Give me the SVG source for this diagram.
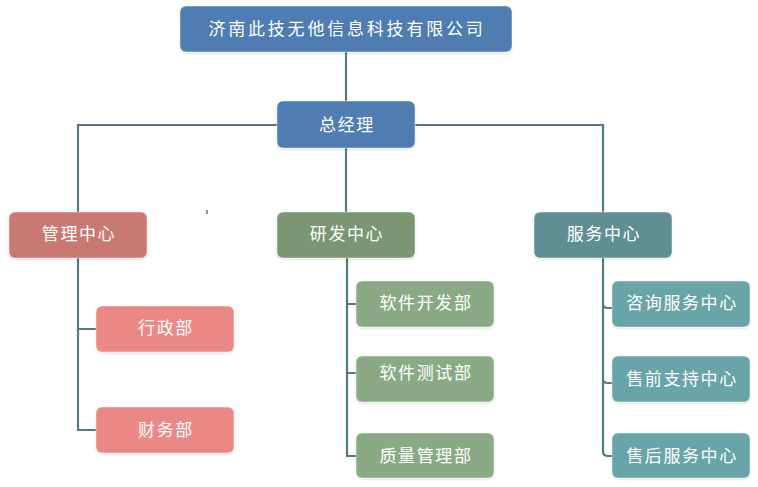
<svg xmlns="http://www.w3.org/2000/svg" width="758" height="487" viewBox="0 0 758 487">
<style>
.n{stroke:#ffffff;stroke-opacity:0.45;stroke-width:1;filter:url(#sh)}
.t{fill:#ffffff;font-family:"Noto Sans CJK SC","Liberation Sans",sans-serif;font-size:17px;text-anchor:middle;dominant-baseline:central;letter-spacing:1.6px}
.c{fill:none;stroke:#527a80;stroke-width:2.2}
</style>
<defs>
<filter id="sh" x="-10%" y="-20%" width="120%" height="150%">
<feDropShadow dx="0" dy="1" stdDeviation="1.2" flood-color="#000" flood-opacity="0.18"/>
</filter>
</defs>
<g id="connectors">
<path class="c" d="M346 52V101"/>
<path class="c" d="M78 212V125H277M415 125H603V212"/>
<path class="c" d="M346 148V212"/>
<path class="c" d="M78 258V430H96M78 329H96"/>
<path class="c" d="M347 258V456H356M347 304H356M347 373H356"/>
<path class="c" d="M603 258V451Q603 456 608 456H612M603 304Q603 308 608 308H612M603 379Q603 383 608 383H612"/>
<path d="M207 210V214" stroke="#527a80" stroke-width="1.5"/>
</g>
<g id="company"><rect class="n" x="180" y="6" width="332" height="46" rx="6" fill="#4f7cb1"/><text class="t" x="347" y="27" style="letter-spacing:2.8px">济南此技无他信息科技有限公司</text></g>
<g id="gm"><rect class="n" x="277" y="101" width="138" height="47" rx="6" fill="#4f7cb1"/><text class="t" x="347" y="123">总经理</text></g>
<g id="admin"><rect class="n" x="9" y="212" width="138" height="46" rx="6" fill="#c97872"/><text class="t" x="79" y="232">管理中心</text></g>
<g id="rd"><rect class="n" x="277" y="212" width="138" height="46" rx="6" fill="#7a9673"/><text class="t" x="347" y="232">研发中心</text></g>
<g id="service"><rect class="n" x="534" y="212" width="138" height="46" rx="6" fill="#5e8f93"/><text class="t" x="604" y="232">服务中心</text></g>
<g id="xingzheng"><rect class="n" x="96" y="306" width="138" height="46" rx="6" fill="#e98884"/><text class="t" x="166" y="326">行政部</text></g>
<g id="caiwu"><rect class="n" x="96" y="407" width="138" height="46" rx="6" fill="#e98884"/><text class="t" x="166" y="428">财务部</text></g>
<g id="kaifa"><rect class="n" x="356" y="281" width="138" height="46" rx="6" fill="#8aaa86"/><text class="t" x="426" y="301">软件开发部</text></g>
<g id="ceshi"><rect class="n" x="356" y="356" width="138" height="46" rx="6" fill="#8aaa86"/><text class="t" x="426" y="371">软件测试部</text></g>
<g id="zhiliang"><rect class="n" x="356" y="433" width="138" height="45" rx="6" fill="#8aaa86"/><text class="t" x="426" y="454">质量管理部</text></g>
<g id="zixun"><rect class="n" x="612" y="281" width="138" height="46" rx="6" fill="#68a4a8"/><text class="t" x="682" y="301">咨询服务中心</text></g>
<g id="shouqian"><rect class="n" x="612" y="356" width="138" height="46" rx="6" fill="#68a4a8"/><text class="t" x="682" y="377">售前支持中心</text></g>
<g id="shouhou"><rect class="n" x="612" y="433" width="138" height="45" rx="6" fill="#68a4a8"/><text class="t" x="682" y="454">售后服务中心</text></g>
</svg>
